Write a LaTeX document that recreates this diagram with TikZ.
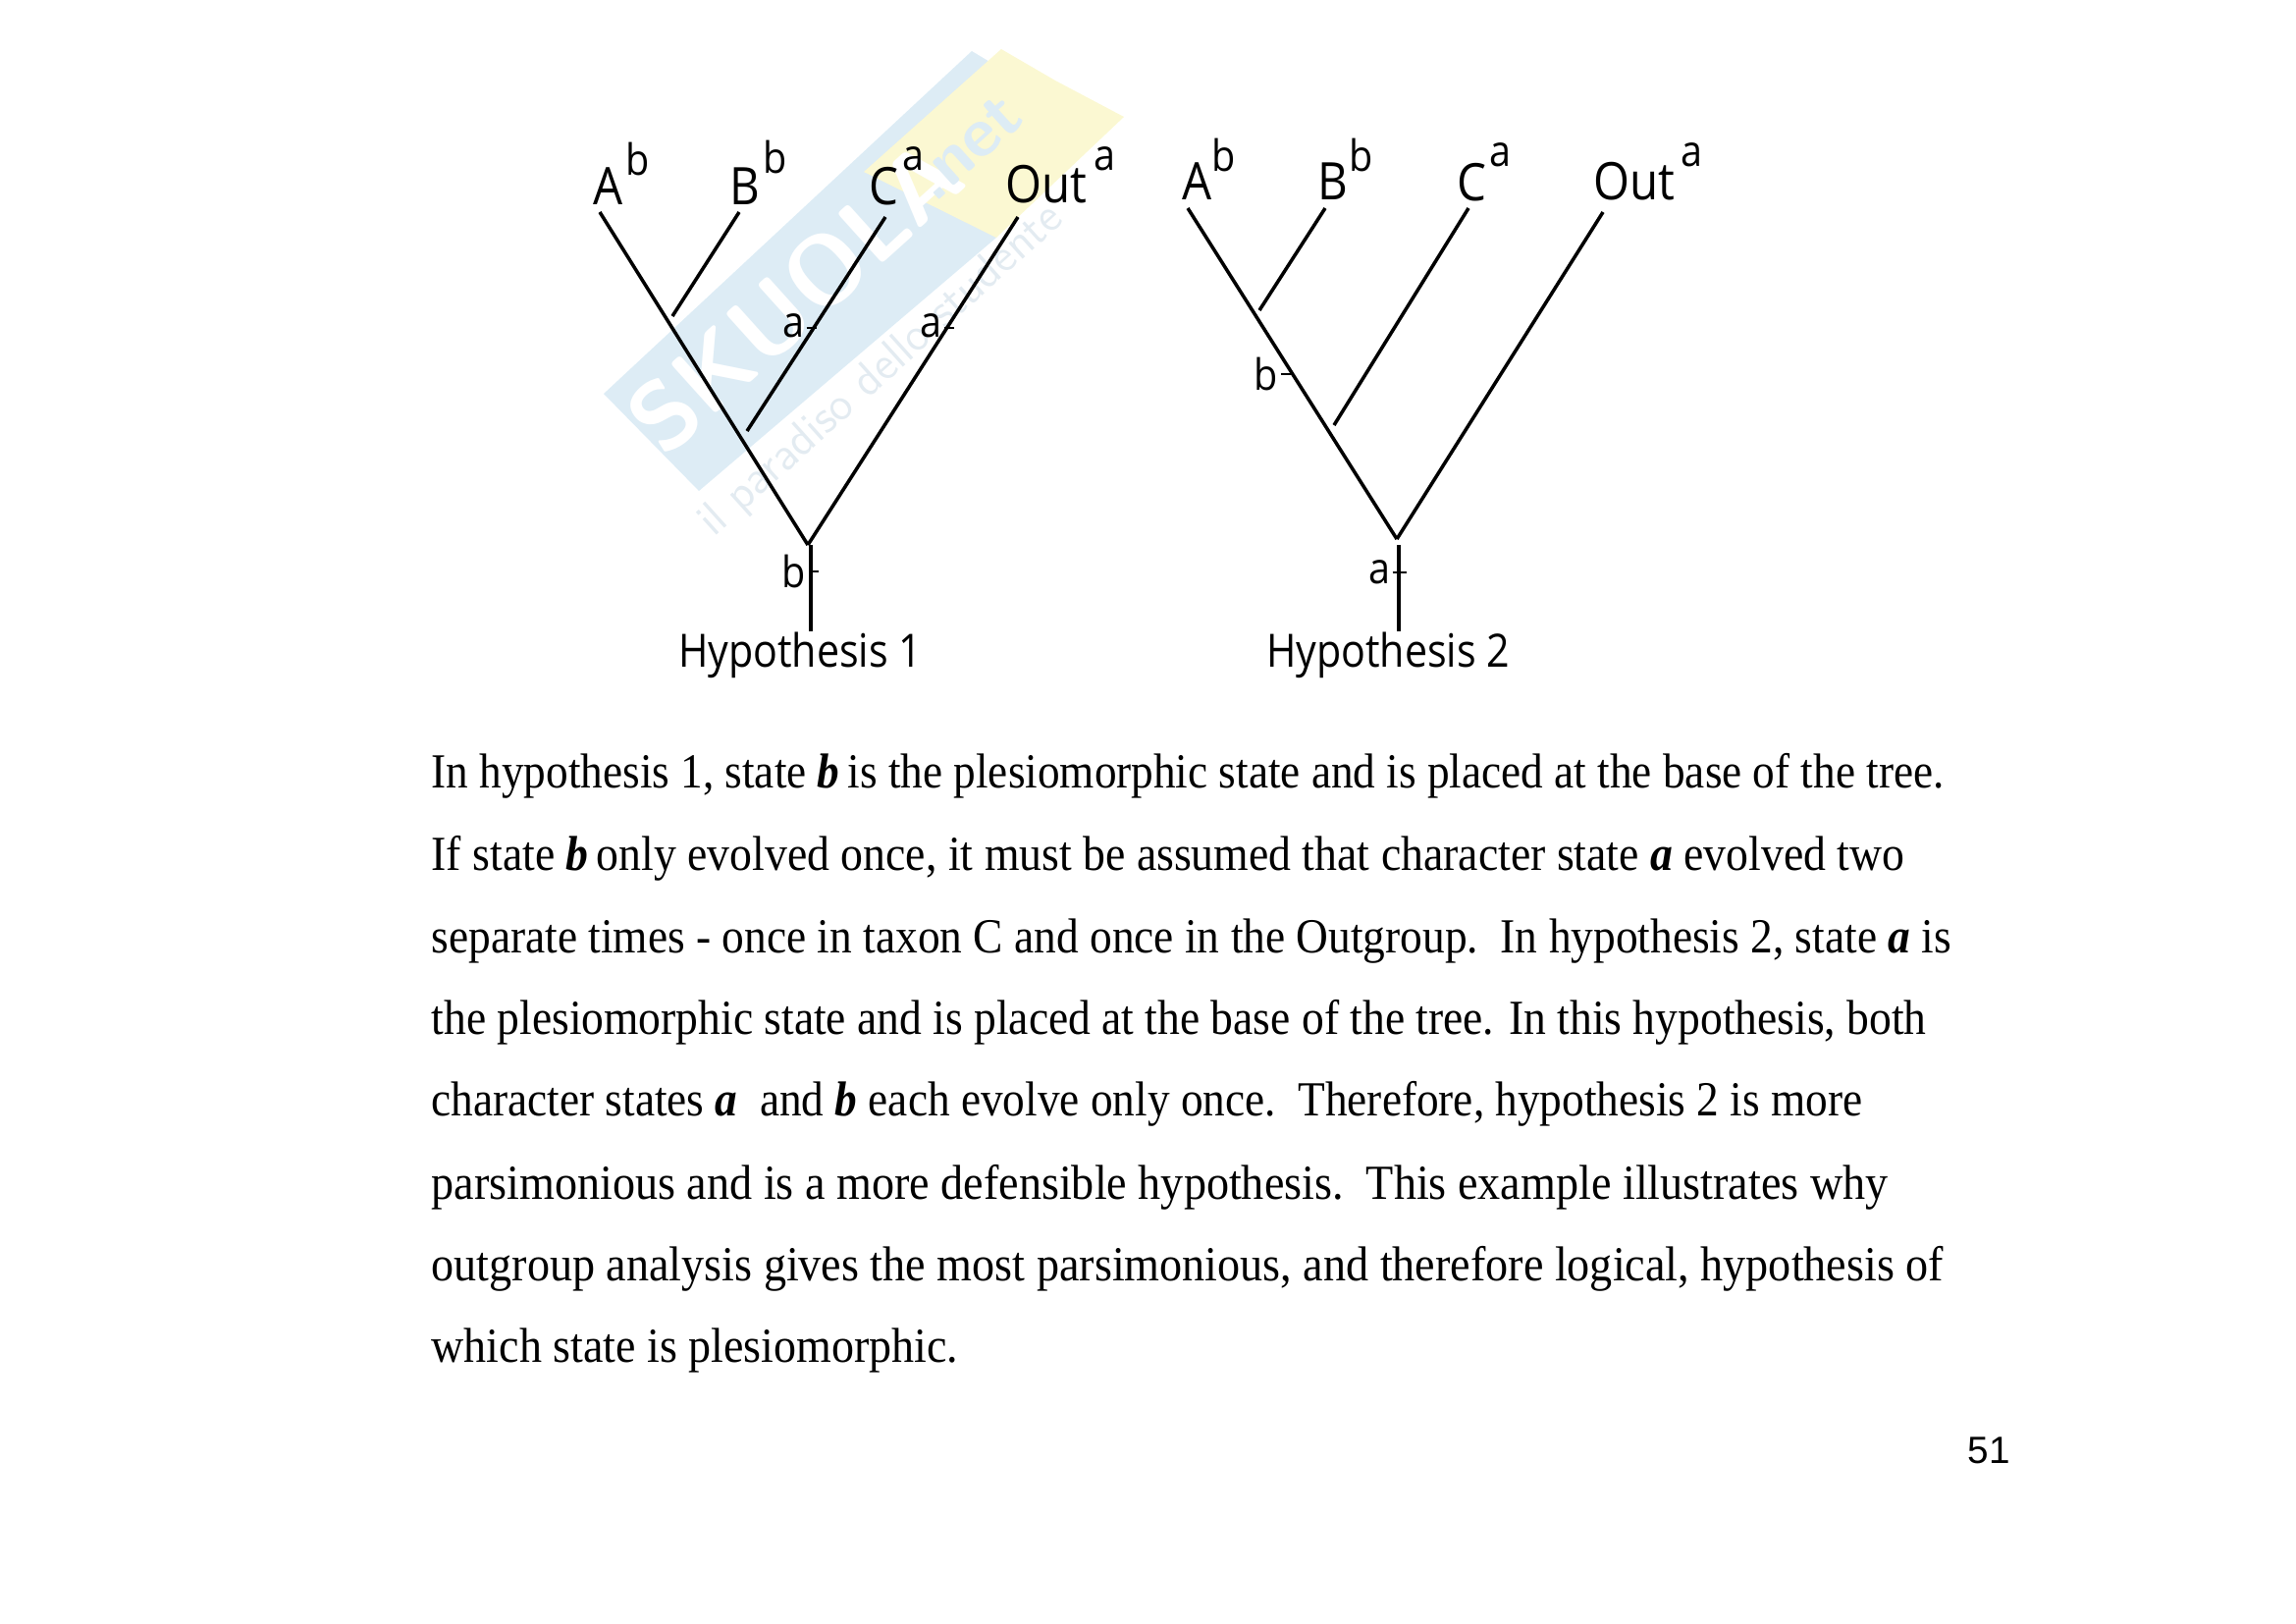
\documentclass[tikz,border=0pt]{standalone}
\usepackage{fontspec}
\setmainfont{Liberation Serif}
\newfontfamily\labelfont{Open Sans}
\newfontfamily\pagefont{Liberation Sans}
\usepackage{xcolor}
\definecolor{markblue}{HTML}{DDECF5}
\definecolor{markyellow}{HTML}{FBF8D2}
\definecolor{marktext}{HTML}{E3EBF1}
\tikzset{
  branch/.style={line width=1pt, black},
  stemline/.style={line width=1.25pt, black},
  tickmark/.style={line width=0.5pt, black},
  taxon/.style={inner sep=0pt, font=\labelfont\fontsize{15}{15}\selectfont, xscale=0.9},
  statemark/.style={inner sep=0pt, font=\labelfont\fontsize{12.5}{13}\selectfont, xscale=0.9},
  caption/.style={inner sep=0pt, font=\labelfont\fontsize{13.3}{14}\selectfont, xscale=0.88},
  bodyline/.style={inner sep=0pt, anchor=base west, font=\fontsize{14.2}{15}\selectfont},
}
\newcommand{\bit}[1]{\textbf{\textit{#1}}}
\begin{document}
\begin{tikzpicture}[x=0.01cm, y=-0.01cm]
\useasboundingbox (0,0) rectangle (2339,1653);
% watermark
\fill[markblue] (615,401) -- (990,52) -- (1020,70) -- (1015,242) -- (712,500) -- cycle;
\fill[markyellow] (1020,50) -- (1075,82) -- (1145,119) -- (1015,242) -- (880,175) -- cycle;
\node[rotate=42, font=\sffamily\bfseries\fontsize{28}{28}\selectfont, text=white] (skuola) at (810,302) {SKUOLA};
\node[rotate=42, font=\sffamily\bfseries\fontsize{20}{20}\selectfont, text=markblue] (net) at (985,150) {.net};
\node[rotate=42, font=\sffamily\fontsize{13.5}{14}\selectfont, text=marktext] (motto) at (898,378) {il paradiso dello studente};

% first tree
\coordinate (tipA1) at (611,216);
\coordinate (tipB1) at (753,216);
\coordinate (tipC1) at (902,221);
\coordinate (tipO1) at (1037,221);
\coordinate (root1) at (823,555);
\coordinate (joinB1) at (685,322);
\coordinate (joinC1) at (761,439);
\coordinate (stem1) at (826,555);
\node[taxon] (A1) at (620,190) {A};
\node[statemark] (A1s) at (650,162) {b};
\node[taxon] (B1) at (759,190) {B};
\node[statemark] (B1s) at (790,160) {b};
\node[taxon] (C1) at (900,190) {C};
\node[statemark] (C1s) at (930,162) {a};
\node[taxon] (O1) at (1066,188) {Out};
\node[statemark] (O1s) at (1125,162) {a};
\node[caption] (hyp1) at (815,667) {Hypothesis 1};
\draw[branch] (tipA1) -- (root1);
\draw[branch] (tipB1) -- (joinB1);
\draw[branch] (tipC1) -- (joinC1);
\draw[branch] (tipO1) -- (root1);
\draw[stemline] (stem1) -- (hyp1.north -| stem1);
\node[statemark] (aC1) at (808,332) {a};
\node[statemark] (aO1) at (948,332) {a};
\node[statemark] (bR1) at (809,582) {b};
\draw[tickmark] (aC1.east) ++(2,2) -- ++(10,0);
\draw[tickmark] (aO1.east) ++(2,2) -- ++(10,0);
\draw[tickmark] (bR1.east) ++(2,0) -- ++(10,0);

% second tree
\coordinate (tipA2) at (1210,212);
\coordinate (tipB2) at (1350,212);
\coordinate (tipC2) at (1496,212);
\coordinate (tipO2) at (1633,216);
\coordinate (root2) at (1423,549);
\coordinate (joinB2) at (1283,316);
\coordinate (joinC2) at (1359,433);
\coordinate (stem2) at (1425,555);
\node[taxon] (A2) at (1220,185) {A};
\node[statemark] (A2s) at (1247,158) {b};
\node[taxon] (B2) at (1358,185) {B};
\node[statemark] (B2s) at (1387,158) {b};
\node[taxon] (C2) at (1499,186) {C};
\node[statemark] (C2s) at (1528,158) {a};
\node[taxon] (O2) at (1665,185) {Out};
\node[statemark] (O2s) at (1723,158) {a};
\node[caption] (hyp2) at (1414,667) {Hypothesis 2};
\draw[branch] (tipA2) -- (root2);
\draw[branch] (tipB2) -- (joinB2);
\draw[branch] (tipC2) -- (joinC2);
\draw[branch] (tipO2) -- (root2);
\draw[stemline] (stem2) -- (hyp2.north -| stem2);
\node[statemark] (bL2) at (1290,381) {b};
\node[statemark] (aR2) at (1405,583) {a};
\draw[tickmark] (bL2.east) ++(2,0) -- ++(12,0);
\draw[tickmark] (aR2.east) ++(2,0) -- ++(14,0);

% text under the trees
\node[bodyline, xscale=0.906] (line1) at (439,802) {In hypothesis 1, state \bit{b}\kern-1pt{} is the plesiomorphic state and is placed at the base of the tree.};
\node[bodyline, xscale=0.916] (line2) at (439,886) {If state \bit{b}\kern-1pt{} only evolved once, it must be assumed that character state \bit{a} evolved two};
\node[bodyline, xscale=0.909] (line3) at (439,970) {separate times - once in taxon C and once in the Outgroup.\ \ In hypothesis 2, state \bit{a} is};
\node[bodyline, xscale=0.912] (line4) at (439,1053) {the plesiomorphic state and is placed at the base of the tree. In this hypothesis, both};
\node[bodyline, xscale=0.907] (line5) at (439,1136) {character states \bit{a}\ \ and \bit{b} each evolve only once.\ \ Therefore, hypothesis 2 is more};
\node[bodyline, xscale=0.924] (line6) at (439,1221) {parsimonious and is a more defensible hypothesis.\ \ This example illustrates why};
\node[bodyline, xscale=0.924] (line7) at (439,1304) {outgroup analysis gives the most parsimonious, and therefore logical, hypothesis of};
\node[bodyline, xscale=0.921] (line8) at (439,1387) {which state is plesiomorphic.};
\node[inner sep=0pt, font=\pagefont\fontsize{11}{12}\selectfont] (pagenum) at (2026,1477) {51};
\end{tikzpicture}
\end{document}
